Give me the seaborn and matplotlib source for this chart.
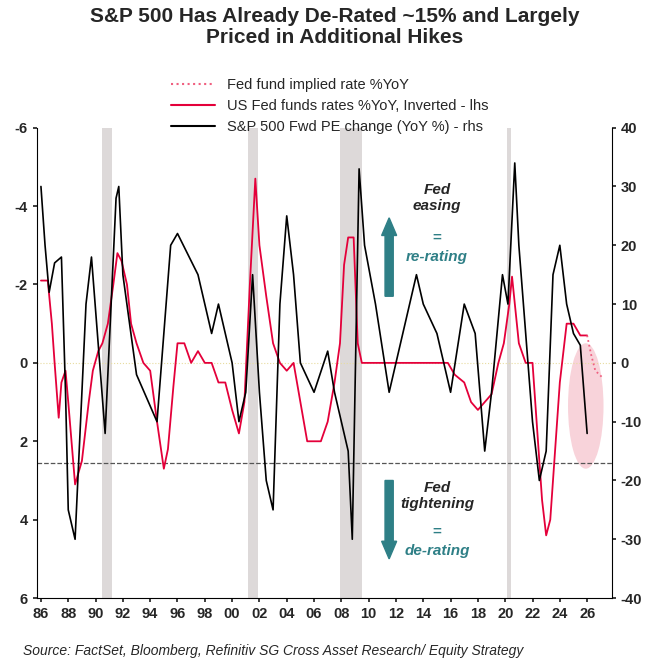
import matplotlib
matplotlib.use("Agg")
import matplotlib.pyplot as plt
import seaborn as sns
import pandas as pd
from matplotlib.patches import Ellipse, FancyArrow
from matplotlib.lines import Line2D

sns.set_theme(style="white")
plt.rcParams['font.family'] = ['Arial', 'Liberation Sans', 'DejaVu Sans']
plt.rcParams['axes.unicode_minus'] = False

fed_t = [1986.0,1986.5,1986.8,1987.0,1987.3,1987.5,1987.8,1988.0,1988.5,1989.0,1989.5,1989.8,1990.2,1990.5,1990.9,1991.3,1991.6,1991.9,1992.3,1992.6,1993.0,1993.5,1994.0,1994.5,1995.0,1995.3,1995.7,1996.0,1996.5,1997.0,1997.5,1998.0,1998.5,1999.0,1999.5,2000.0,2000.5,2000.9,2001.3,2001.7,2002.0,2002.5,2003.0,2003.5,2004.0,2004.5,2005.0,2005.5,2006.0,2006.5,2007.0,2007.5,2007.9,2008.2,2008.5,2008.9,2009.2,2009.5,2012.0,2015.8,2016.3,2017.0,2017.5,2018.0,2018.5,2019.0,2019.5,2019.9,2020.3,2020.5,2021.0,2021.5,2022.0,2022.3,2022.7,2023.0,2023.3,2023.6,2024.0,2024.5,2025.0,2025.5,2026.0]
fed_v = [-2.1,-2.1,-1.0,0.0,1.4,0.5,0.2,1.0,3.1,2.5,1.0,0.2,-0.3,-0.5,-1.0,-2.0,-2.8,-2.6,-2.0,-1.0,-0.5,0.0,0.2,1.5,2.7,2.2,0.6,-0.5,-0.5,0.0,-0.3,0.0,0.0,0.5,0.5,1.2,1.8,1.0,-2.0,-4.7,-3.0,-1.7,-0.5,0.0,0.2,0.0,1.0,2.0,2.0,2.0,1.5,0.5,-0.5,-2.5,-3.2,-3.2,-0.5,0.0,0.0,0.0,0.3,0.5,1.0,1.2,1.0,0.8,0.0,-0.5,-1.5,-2.2,-0.5,0.0,0.0,1.5,3.5,4.4,4.0,2.5,0.5,-1.0,-1.0,-0.7,-0.7]
impl_t = [2026.0,2026.3,2026.6,2027.2]
impl_v = [-0.7,-0.2,0.2,0.4]
pe_t = [1986.0,1986.3,1986.6,1987.0,1987.5,1987.8,1988.0,1988.5,1989.3,1989.7,1990.3,1990.7,1991.5,1991.7,1992.0,1993.0,1994.5,1995.5,1996.0,1997.5,1998.5,1999.0,2000.0,2000.5,2001.0,2001.5,2002.0,2002.5,2003.0,2003.5,2004.0,2004.5,2005.0,2006.0,2007.0,2007.5,2008.5,2008.8,2009.3,2009.7,2010.5,2011.5,2012.5,2013.5,2014.0,2015.0,2016.0,2017.0,2017.8,2018.5,2019.0,2019.8,2020.2,2020.7,2021.0,2021.5,2022.0,2022.5,2023.0,2023.5,2024.0,2024.5,2025.0,2025.5,2025.8,2026.0]
pe_v = [30,20,12,17,18,-5,-25,-30,10,18,0,-12,28,30,15,-2,-10,20,22,15,5,10,0,-10,-5,15,-5,-20,-25,10,25,15,0,-5,2,-5,-15,-30,33,20,10,-5,5,15,10,5,-5,10,5,-15,-5,15,10,34,20,5,-10,-20,-15,15,20,10,5,3,-6,-12]
recessions = [(1990.5, 1991.2), (2001.2, 2001.9), (2007.9, 2009.5), (2020.1, 2020.4)]
year_ticks = list(range(1986, 2027, 2))

fig = plt.figure(figsize=(6.7, 6.72), dpi=100)
ax = fig.add_axes([0.055, 0.11, 0.858, 0.70])
ax2 = ax.twinx()

for a, b in recessions:
    ax.axvspan(a, b, color='#ddd9d9', zorder=0, lw=0)
ax.axhline(0, color='#e8dca0', lw=0.8, ls=':')
ax.axhline(2.55, color='#555555', lw=0.9, ls='--')

sns.lineplot(x=fed_t, y=fed_v, ax=ax, color='#e4003a', lw=1.3)
sns.lineplot(x=impl_t, y=impl_v, ax=ax, color='#f06080', lw=1.3, ls=':')
ax.add_patch(Ellipse((2025.9, 1.1), 2.6, 3.2, color='#f4b6c2', alpha=0.6, lw=0, zorder=0))
sns.lineplot(x=pe_t, y=pe_v, ax=ax2, color='black', lw=1.2)

ax.set_ylim(6, -6)
ax.set_yticks([-6, -4, -2, 0, 2, 4, 6])
ax2.set_ylim(-40, 40)
ax2.set_yticks(range(-40, 41, 10))
ax.set_xlim(1985.7, 2027.8)
ax.set_xticks(year_ticks)
ax.set_xticklabels([f"{y % 100:02d}" for y in year_ticks])
for a_ in (ax, ax2):
    a_.tick_params(labelsize=10.5, length=3)
    for lbl in a_.get_xticklabels() + a_.get_yticklabels():
        lbl.set_fontweight('bold')
    for s in a_.spines.values():
        s.set_visible(False)
ax.spines['left'].set_visible(True); ax.spines['bottom'].set_visible(True)
ax2.spines['right'].set_visible(True)
for s in (ax.spines['left'], ax.spines['bottom'], ax2.spines['right']):
    s.set_color('black'); s.set_linewidth(0.8)
ax.tick_params(axis='both', direction='out', left=True, bottom=True)
ax2.tick_params(axis='y', direction='out', right=True)

teal = '#2e7f86'
ax.add_patch(FancyArrow(2011.5, -1.7, 0, -2.0, width=0.6, head_width=1.1, head_length=0.45,
                        color=teal, length_includes_head=True))
ax.add_patch(FancyArrow(2011.5, 3.0, 0, 2.0, width=0.6, head_width=1.1, head_length=0.45,
                        color=teal, length_includes_head=True))
tx = 2015.0
ax.text(tx, -4.2, "Fed\neasing", ha='center', va='center', fontsize=11, fontweight='bold', style='italic')
ax.text(tx, -3.2, "=", ha='center', va='center', fontsize=11, fontweight='bold', color=teal)
ax.text(tx, -2.7, "re-rating", ha='center', va='center', fontsize=11, fontweight='bold', style='italic', color=teal)
ax.text(tx, 3.4, "Fed\ntightening", ha='center', va='center', fontsize=11, fontweight='bold', style='italic')
ax.text(tx, 4.3, "=", ha='center', va='center', fontsize=11, fontweight='bold', color=teal)
ax.text(tx, 4.8, "de-rating", ha='center', va='center', fontsize=11, fontweight='bold', style='italic', color=teal)

fig.text(0.5, 0.99, "S&P 500 Has Already De-Rated ~15% and Largely\nPriced in Additional Hikes",
         ha='center', va='top', fontsize=15, fontweight='bold', linespacing=1.15)
handles = [Line2D([], [], color='#f06080', ls=':', lw=1.5),
           Line2D([], [], color='#e4003a', lw=1.5),
           Line2D([], [], color='black', lw=1.5)]
labels = ["Fed fund implied rate %YoY", "US Fed funds rates %YoY, Inverted - lhs", "S&P 500 Fwd PE change (YoY %) - rhs"]
fig.legend(handles, labels, loc='upper left', bbox_to_anchor=(0.245, 0.895), frameon=False,
           fontsize=10.5, handlelength=3, labelspacing=0.5, borderpad=0)
fig.text(0.035, 0.025, "Source: FactSet, Bloomberg, Refinitiv SG Cross Asset Research/ Equity Strategy",
         fontsize=10, style='italic')
fig.savefig("out.png", dpi=100)
